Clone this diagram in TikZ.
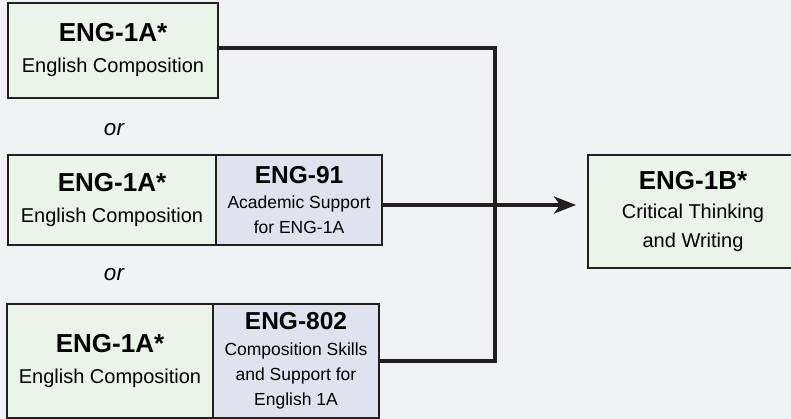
\documentclass[tikz,border=0pt]{standalone}
\usepackage{fontspec}
\setmainfont{Liberation Sans}
\usetikzlibrary{positioning,arrows.meta}
\definecolor{bgray}{HTML}{F1F2F4}
\definecolor{cgreen}{HTML}{EAF4E8}
\definecolor{cpurple}{HTML}{E1E2EF}
\definecolor{cline}{HTML}{231F20}
\begin{document}
\begin{tikzpicture}[x=1pt, y=-1pt,
    course/.style={draw=cline, line width=2.5pt, fill=cgreen, inner sep=0pt, outer sep=0pt, align=center, font=\fontsize{20}{29}\selectfont},
    support/.style={course, fill=cpurple, minimum width=166pt, font=\fontsize{17.5}{25}\selectfont},
    orlabel/.style={font=\fontsize{22.5}{26}\selectfont\itshape},
    link/.style={cline, line width=3.5pt}]
        \fill [bgray] (0,0) rectangle (791,419);
        \useasboundingbox (0,0) rectangle (791,419);
        \node [course, minimum width=210pt, minimum height=95pt] (eng1a) at (113,50.5) {{\fontsize{26}{29}\selectfont\bfseries ENG-1A*}\\[2pt] English Composition};
        \node [orlabel] (or1) at (114,130) {or};
        \node [course, minimum width=208pt, minimum height=90pt] (eng1a91) at (112,200) {{\fontsize{26}{29}\selectfont\bfseries ENG-1A*}\\[2pt] English Composition};
        \node [support, minimum height=90pt, right=0pt of eng1a91] (sup91) {{\fontsize{24.5}{29}\selectfont\bfseries ENG-91}\\ Academic Support\\ for ENG-1A};
        \node [orlabel] (or2) at (114,275) {or};
        \node [course, minimum width=206pt, minimum height=114pt] (eng1a802) at (110,361) {{\fontsize{26}{29}\selectfont\bfseries ENG-1A*}\\[2pt] English Composition};
        \node [support, minimum height=114pt, right=0pt of eng1a802] (sup802) {{\fontsize{24.5}{29}\selectfont\bfseries ENG-802}\\[1pt] Composition Skills\\ and Support for\\ English 1A};
        \node [course, minimum width=210pt, minimum height=113pt] (eng1b) at (693,211.5) {{\fontsize{26}{29}\selectfont\bfseries ENG-1B*}\\ Critical Thinking\\ and Writing};
        \coordinate (bend) at (495,0);
        \coordinate (out91) at ([yshift=-5pt]sup91.east);
        \draw [link] ([yshift=2.5pt]eng1a.east) -| (bend |- sup802.east) -- (sup802.east);
        \draw [link, -{Stealth[length=22pt, width=17pt, inset=6pt]}, shorten >=12pt] (out91) -- (out91 -| eng1b.west);
    \end{tikzpicture}
\end{document}
